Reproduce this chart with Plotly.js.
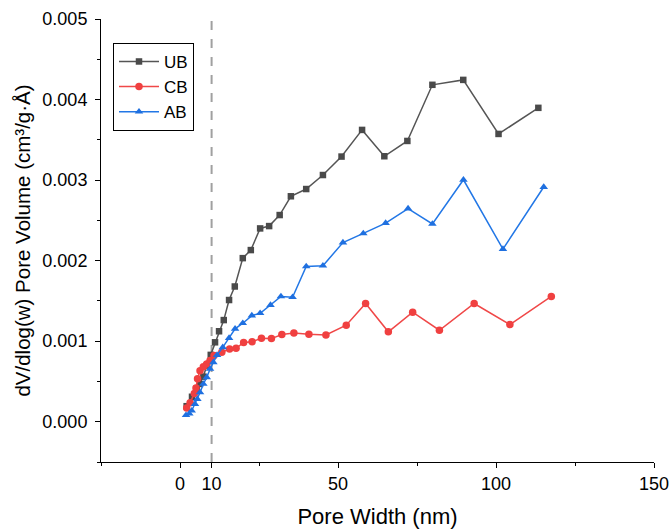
<!DOCTYPE html>
<html>
<head>
<meta charset="utf-8">
<script src="https://cdn.plot.ly/plotly-3.0.1.min.js"></script>
<style>html,body{margin:0;padding:0;background:#fff;}#chart{width:670px;height:530px;}</style>
</head>
<body>
<div id="chart"></div>
<script>
// Pore width (nm) and dV/dlog(w) pore volume (cm3/g·Å)
const ubX = [2.1, 3.8, 5.3, 6.34, 7.39, 8.46, 9.73, 11.09, 12.36, 13.85, 15.53, 17.34, 19.87, 22.41, 25.36, 28.21, 31.54, 35.09, 39.94, 45.23, 51.12, 57.62, 64.66, 71.95, 79.87, 89.64, 100.8, 113.4];
const ubY = [0.000193, 0.00031, 0.00041, 0.000469, 0.00056, 0.000697, 0.00083, 0.000986, 0.001123, 0.001262, 0.001511, 0.001679, 0.002031, 0.002131, 0.0024, 0.002429, 0.002566, 0.002799, 0.002889, 0.003063, 0.003292, 0.003623, 0.003296, 0.003486, 0.004183, 0.004244, 0.003573, 0.003897];

const cbX = [2.12, 3.2, 4.53, 5.07, 5.55, 6.34, 7.39, 8.46, 9.51, 10.78, 13.22, 15.69, 17.75, 20.13, 22.82, 25.77, 28.94, 32.23, 36.04, 40.79, 46.18, 52.61, 58.73, 65.93, 73.63, 82.09, 93.09, 104.4, 117.5];
const cbY = [0.00017, 0.000236, 0.000352, 0.000419, 0.000535, 0.000634, 0.000684, 0.000718, 0.000759, 0.000821, 0.000862, 0.000902, 0.000912, 0.000985, 0.000993, 0.001036, 0.001032, 0.001082, 0.001103, 0.001086, 0.001078, 0.001198, 0.001468, 0.001116, 0.00136, 0.001136, 0.001468, 0.001206, 0.001555];

const abX = [1.9, 2.95, 3.71, 4.75, 5.49, 6.34, 7.39, 8.46, 9.51, 10.56, 11.73, 13.53, 15.53, 17.43, 19.87, 22.73, 25.36, 28.64, 31.94, 35.62, 39.94, 45.23, 51.57, 58.0, 65.07, 72.17, 79.87, 89.7, 102.2, 115.1];
const abY = [0.000081, 0.0001, 0.000137, 0.00022, 0.000282, 0.000364, 0.000469, 0.000551, 0.000655, 0.000738, 0.000827, 0.000924, 0.001039, 0.001153, 0.001223, 0.001318, 0.001347, 0.001449, 0.001555, 0.001546, 0.001928, 0.001937, 0.002224, 0.002338, 0.002466, 0.002647, 0.002456, 0.003004, 0.002143, 0.002914];

const xTickVals = [0, 10, 50, 100, 150];
const xTickText = ['0', '10', '50', '100', '150'];
const xMinorVals = [-25, 25, 75, 125];
const refLineX = 10;

const FONT = 'Arial, "Liberation Sans", sans-serif';

const traces = [
  {x: ubX, y: ubY, name: 'UB', mode: 'lines+markers', type: 'scatter',
   line: {color: '#555555', width: 1.5}, marker: {symbol: 'square', size: 6.5, color: '#4a4a4a'}},
  {x: cbX, y: cbY, name: 'CB', mode: 'lines+markers', type: 'scatter',
   line: {color: '#f04848', width: 1.5}, marker: {symbol: 'circle', size: 7.5, color: '#f04040'}},
  {x: abX, y: abY, name: 'AB', mode: 'lines+markers', type: 'scatter',
   line: {color: '#2277e6', width: 1.5}, marker: {symbol: 'triangle-up', size: 7.5, color: '#1f70e0'}}
];

const layout = {
  width: 670, height: 530,
  margin: {l: 101, r: 16, t: 19, b: 68},
  paper_bgcolor: '#fff', plot_bgcolor: '#fff',
  font: {family: FONT, size: 18, color: '#000'},
  showlegend: true,
  legend: {x: 0.0217, y: 0.946, xanchor: 'left', yanchor: 'top',
           bordercolor: '#000', borderwidth: 1, bgcolor: '#fff',
           font: {family: FONT, size: 17, color: '#000'}, itemwidth: 40,
           tracegroupgap: 0},
  xaxis: {
    range: [-25, 150], showgrid: false, zeroline: false,
    showline: true, linecolor: '#000', linewidth: 1,
    ticks: 'outside', ticklen: 5, tickcolor: '#000',
    tickmode: 'array', tickvals: xTickVals, ticktext: xTickText,
    tickfont: {family: FONT, size: 18, color: '#000'},
    minor: {tickmode: 'array', tickvals: xMinorVals, ticks: 'outside', ticklen: 3, tickcolor: '#000', showgrid: false},
    title: {text: 'Pore Width (nm)', font: {family: FONT, size: 22, color: '#000'}, standoff: 16}
  },
  yaxis: {
    range: [-0.0005, 0.005], showgrid: false, zeroline: false,
    showline: true, linecolor: '#000', linewidth: 1,
    ticks: 'outside', ticklen: 5, tickcolor: '#000',
    tick0: 0, dtick: 0.001, tickformat: '.3f', ticklabelstandoff: 4,
    tickfont: {family: FONT, size: 18, color: '#000'},
    minor: {dtick: 0.0005, tick0: -0.0005, ticks: 'outside', ticklen: 3, tickcolor: '#000', showgrid: false},
    title: {text: 'dV/dlog(w) Pore Volume (cm³/g·Å)', font: {family: FONT, size: 20.5, color: '#000'}, standoff: 6}
  },
  shapes: [{
    type: 'line', xref: 'x', yref: 'paper', x0: refLineX, x1: refLineX, y0: 0, y1: 1,
    line: {color: '#a0a0a0', width: 2, dash: 'dash'}, layer: 'below'
  }]
};

Plotly.newPlot('chart', traces, layout, {displayModeBar: false, staticPlot: true});
</script>
</body>
</html>
